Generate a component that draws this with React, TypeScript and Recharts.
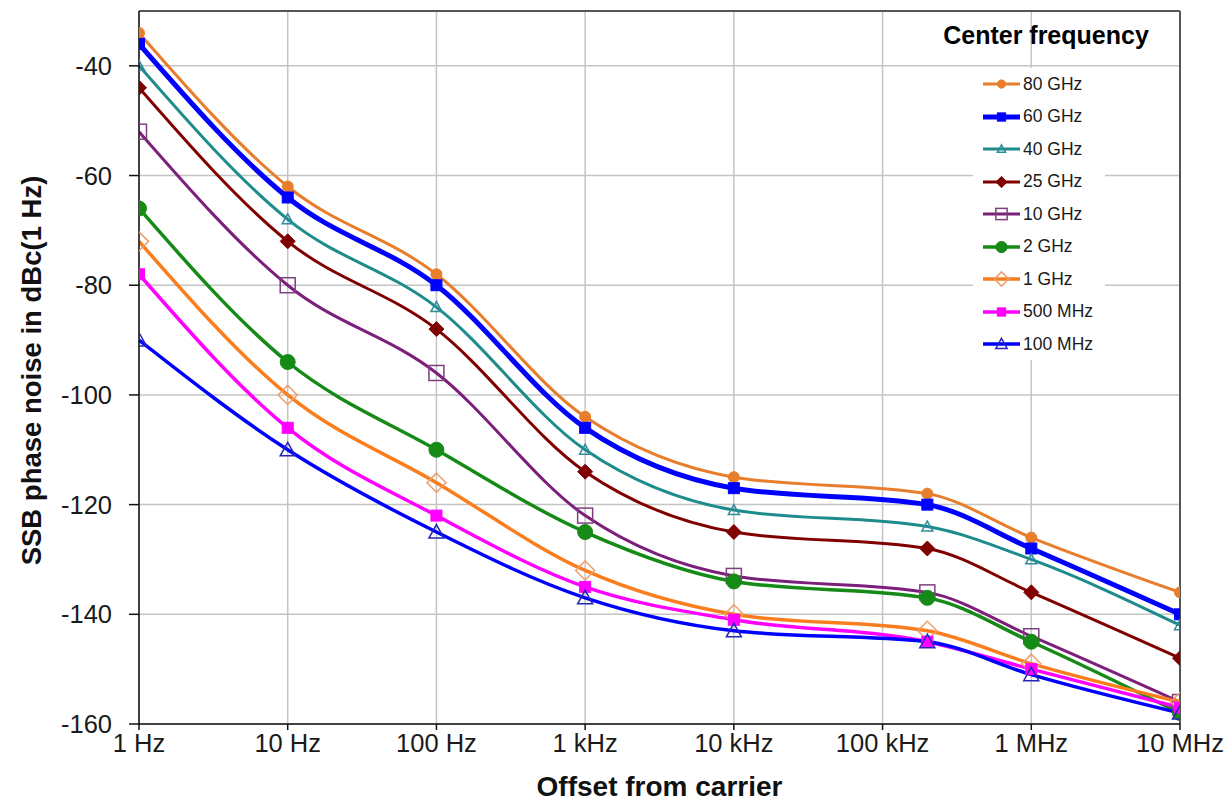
import React from "react";
import {
  LineChart,
  Line,
  XAxis,
  YAxis,
  CartesianGrid,
  Legend,
  ReferenceLine,
} from "recharts";

const FONT = '"Liberation Sans", Arial, sans-serif';

// offsets (Hz) at which the curves were sampled
const offsets = [1, 10, 100, 1000, 10000, 200000, 1000000, 10000000];

// x axis ticks
const xTicks = [1, 10, 100, 1000, 10000, 100000, 1000000, 10000000];
const xTickLabels = ["1 Hz", "10 Hz", "100 Hz", "1 kHz", "10 kHz", "100 kHz", "1 MHz", "10 MHz"];

// y axis ticks
const yTicks = [-160, -140, -120, -100, -80, -60, -40];

// SSB phase noise in dBc(1 Hz), one array per center frequency
const ghz80 = [-34, -62, -78, -104, -115, -118, -126, -136];
const ghz60 = [-36, -64, -80, -106, -117, -120, -128, -140];
const ghz40 = [-40, -68, -84, -110, -121, -124, -130, -142];
const ghz25 = [-44, -72, -88, -114, -125, -128, -136, -148];
const ghz10 = [-52, -80, -96, -122, -133, -136, -144, -156];
const ghz2 = [-66, -94, -110, -125, -134, -137, -145, -158];
const ghz1 = [-72, -100, -116, -132, -140, -143, -149, -156];
const mhz500 = [-78, -106, -122, -135, -141, -145, -150, -157];
const mhz100 = [-90, -110, -125, -137, -143, -145, -151, -158];

const data = offsets.map((f, i) => ({
  f,
  g80: ghz80[i],
  g60: ghz60[i],
  g40: ghz40[i],
  g25: ghz25[i],
  g10: ghz10[i],
  g2: ghz2[i],
  g1: ghz1[i],
  m500: mhz500[i],
  m100: mhz100[i],
}));

type Shape = "circle" | "square" | "triangle" | "diamond";

type Series = {
  key: string;
  name: string;
  color: string;
  width: number;
  shape: Shape;
  size: number;
  fill: string;
  stroke: string;
};

const series: Series[] = [
  { key: "g80", name: "80 GHz", color: "#E87D2B", width: 3, shape: "circle", size: 11, fill: "#E87D2B", stroke: "#E87D2B" },
  { key: "g60", name: "60 GHz", color: "#0000FF", width: 5, shape: "square", size: 11, fill: "#0000FF", stroke: "#0000FF" },
  { key: "g40", name: "40 GHz", color: "#1E8C8C", width: 3, shape: "triangle", size: 11, fill: "none", stroke: "#2E8C9C" },
  { key: "g25", name: "25 GHz", color: "#800000", width: 3, shape: "diamond", size: 15, fill: "#800000", stroke: "#800000" },
  { key: "g10", name: "10 GHz", color: "#7B1F7B", width: 3, shape: "square", size: 15, fill: "none", stroke: "#7F3F7F" },
  { key: "g2", name: "2 GHz", color: "#168A16", width: 3.5, shape: "circle", size: 15, fill: "#168A16", stroke: "#168A16" },
  { key: "g1", name: "1 GHz", color: "#FA7D1E", width: 3.5, shape: "diamond", size: 19, fill: "none", stroke: "#EE9E6A" },
  { key: "m500", name: "500 MHz", color: "#FF00FF", width: 3.5, shape: "square", size: 11, fill: "#FF00FF", stroke: "#FF00FF" },
  { key: "m100", name: "100 MHz", color: "#0000FF", width: 3.5, shape: "triangle", size: 15, fill: "none", stroke: "#2626B4" },
];

function markerPath(shape: Shape, cx: number, cy: number, s: number) {
  const h = s / 2;
  if (shape === "triangle") {
    return `M${cx},${cy - h} L${cx + h},${cy + h * 0.8} L${cx - h},${cy + h * 0.8} Z`;
  }
  if (shape === "diamond") {
    return `M${cx},${cy - h} L${cx + h},${cy} L${cx},${cy + h} L${cx - h},${cy} Z`;
  }
  return "";
}

function Marker({ s, cx, cy, scale = 1 }: { s: Series; cx: number; cy: number; scale?: number }) {
  const size = s.size * scale;
  const sw = s.fill === "none" ? 1.5 : 1;
  if (s.shape === "circle") {
    return <circle cx={cx} cy={cy} r={size / 2} fill={s.fill} stroke={s.stroke} strokeWidth={sw} />;
  }
  if (s.shape === "square") {
    return (
      <rect x={cx - size / 2} y={cy - size / 2} width={size} height={size} fill={s.fill} stroke={s.stroke} strokeWidth={sw} />
    );
  }
  return <path d={markerPath(s.shape, cx, cy, size)} fill={s.fill} stroke={s.stroke} strokeWidth={sw} />;
}

const makeDot = (s: Series) => (props: any) => {
  const { cx, cy, index } = props;
  if (cx == null || cy == null) return <g key={`${s.key}-${index}`} />;
  return (
    <g key={`${s.key}-${index}`}>
      <Marker s={s} cx={cx} cy={cy} />
    </g>
  );
};

const renderLegend = () => (
  <div style={{ position: "relative", width: 250, height: 350, fontFamily: FONT }}>
    <div
      style={{
        position: "absolute",
        left: 0,
        top: 7,
        width: 232,
        textAlign: "center",
        fontWeight: "bold",
        fontSize: 25,
        lineHeight: "28px",
        color: "#000",
      }}
    >
      Center frequency
    </div>
    <div
      style={{
        position: "absolute",
        left: 43,
        top: 54,
        width: 132,
        height: 292,
        background: "#fff",
      }}
    >
      {series.map((s) => (
        <div key={s.key} style={{ display: "flex", alignItems: "center", height: 32.5 }}>
          <svg width={50} height={24} style={{ display: "block" }}>
            <line x1={10} x2={47} y1={12} y2={12} stroke={s.color} strokeWidth={s.width} />
            <Marker s={s} cx={28.5} cy={12} scale={0.75} />
          </svg>
          <span style={{ fontSize: 17.5, color: "#1a1a1a", whiteSpace: "nowrap" }}>{s.name}</span>
        </div>
      ))}
    </div>
  </div>
);

const yTitle = (props: any) => {
  const vb = props.viewBox;
  const x = vb.x + 31;
  const y = vb.y + vb.height / 2 + 3;
  return (
    <text
      x={x}
      y={y}
      transform={`rotate(-90, ${x}, ${y})`}
      textAnchor="middle"
      dominantBaseline="central"
      fontFamily={FONT}
      fontWeight="bold"
      fontSize={27.5}
      fill="#111"
    >
      SSB phase noise in dBc(1 Hz)
    </text>
  );
};

const xTitle = (props: any) => {
  const vb = props.viewBox;
  return (
    <text
      x={vb.x + vb.width / 2}
      y={vb.y + 62}
      textAnchor="middle"
      dominantBaseline="central"
      fontFamily={FONT}
      fontWeight="bold"
      fontSize={28}
      fill="#111"
    >
      Offset from carrier
    </text>
  );
};

export default function App() {
  return (
    <div style={{ position: "absolute", left: 0, top: 0, width: 1228, height: 800, background: "#fff" }}>
      <LineChart width={1228} height={800} data={data} margin={{ top: 11, right: 48, bottom: 16, left: 0 }}>
        <CartesianGrid stroke="#C4C4C4" strokeWidth={1.5} />
        <XAxis
          dataKey="f"
          type="number"
          scale="log"
          domain={[1, 10000000]}
          ticks={xTicks}
          tickFormatter={(v: number) => xTickLabels[xTicks.indexOf(v)] ?? ""}
          interval={0}
          height={60}
          tickSize={6}
          tickMargin={4}
          stroke="#111"
          strokeWidth={1.5}
          tick={{ fontSize: 25.5, fill: "#1a1a1a", fontFamily: FONT }}
          allowDataOverflow
          label={{ content: xTitle }}
        />
        <YAxis
          type="number"
          domain={[-160, -30]}
          ticks={yTicks}
          interval={0}
          width={139}
          tickSize={10}
          tickMargin={17}
          stroke="#111"
          strokeWidth={1.5}
          tick={{ fontSize: 25.5, fill: "#1a1a1a", fontFamily: FONT }}
          allowDataOverflow
          label={{ content: yTitle }}
        />
        <ReferenceLine y={-30} stroke="#555" strokeWidth={2} />
        <ReferenceLine x={10000000} stroke="#555" strokeWidth={2} />
        {series.map((s) => (
          <Line
            key={s.key}
            dataKey={s.key}
            name={s.name}
            type="monotone"
            stroke={s.color}
            strokeWidth={s.width}
            dot={makeDot(s)}
            activeDot={false}
            isAnimationActive={false}
          />
        ))}
        <Legend
          content={renderLegend}
          layout="vertical"
          align="center"
          verticalAlign="middle"
          wrapperStyle={{ left: 930, top: 14, width: 250, height: 350 }}
        />
      </LineChart>
    </div>
  );
}
